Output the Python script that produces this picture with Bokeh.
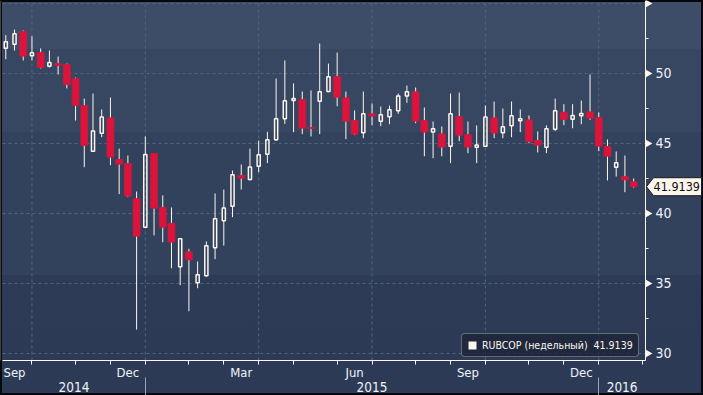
import math
import pandas as pd
from bokeh.plotting import figure
from bokeh.models import (Range1d, LinearAxis, FixedTicker, Legend, LegendItem,
                          ColumnDataSource)
from bokeh.core.properties import value
from bokeh.embed import file_html
from bokeh.resources import INLINE

# ---------------- data ----------------
first_bar_date = "2014-09-12"          # first weekly bar (Friday)
series_name = "RUBCOP (недельный)"
last_value = 41.9139

open_ = [51.81, 52.09, 53.00, 51.26, 51.50, 50.52, 50.71, 50.64, 49.64, 47.71,
         44.45, 45.74, 46.83, 43.86, 43.57, 41.07, 39.02, 44.29, 40.43, 39.29,
         36.19, 37.26, 35.05, 35.55, 37.55, 39.48, 40.52, 42.71, 42.43, 43.38,
         44.24, 45.26, 46.76, 48.07, 48.14, 46.14, 48.02, 48.71, 49.79, 48.26,
         46.64, 45.76, 47.12, 46.59, 46.91, 47.34, 48.40, 48.69, 46.64, 45.83,
         45.69, 44.81, 46.93, 45.64, 44.74, 44.81, 46.83, 45.76, 46.26, 46.62,
         46.69, 45.21, 44.74, 46.02, 47.24, 46.74, 46.98, 47.26, 46.86, 44.79,
         43.31, 42.64, 42.26]
high = [52.74, 53.14, 53.07, 52.66, 51.79, 51.64, 51.21, 50.71, 49.71, 48.21,
        48.57, 47.43, 48.29, 44.64, 44.14, 41.57, 45.50, 44.30, 41.29, 40.43,
        38.20, 37.48, 36.57, 38.00, 41.43, 41.71, 43.07, 43.50, 44.64, 45.21,
        45.83, 49.64, 50.93, 49.29, 48.71, 48.79, 52.14, 50.71, 51.50, 48.71,
        47.36, 48.71, 47.86, 47.64, 47.71, 48.57, 49.14, 49.00, 47.57, 46.57,
        46.21, 48.57, 48.64, 46.57, 46.29, 47.71, 48.00, 47.50, 48.00, 47.43,
        47.00, 45.86, 46.29, 48.21, 47.81, 47.81, 48.07, 49.93, 47.21, 45.29,
        44.43, 44.14, 42.50]
low = [51.02, 51.64, 50.93, 50.93, 50.36, 50.43, 49.93, 48.93, 46.64, 43.31,
       44.45, 45.45, 43.45, 41.38, 41.17, 31.71, 39.00, 38.43, 37.95, 36.09,
       34.88, 33.02, 34.66, 35.50, 36.74, 37.71, 39.74, 41.71, 42.36, 42.95,
       43.60, 45.19, 46.40, 45.81, 45.67, 45.50, 45.67, 48.67, 47.66, 45.31,
       45.60, 45.38, 46.31, 46.24, 46.38, 47.12, 47.91, 46.45, 44.09, 43.95,
       44.09, 43.60, 45.17, 44.31, 43.60, 44.74, 45.38, 45.38, 45.45, 45.81,
       45.02, 44.36, 44.31, 45.88, 46.31, 46.09, 46.38, 46.69, 44.45, 42.36,
       42.64, 41.52, 41.84]
close = [52.26, 52.84, 51.24, 51.48, 50.43, 50.79, 50.57, 49.21, 47.71, 44.86,
         45.90, 46.90, 44.02, 43.52, 41.24, 38.38, 44.21, 40.38, 39.02, 37.95,
         38.19, 36.69, 35.62, 37.69, 39.62, 40.40, 42.76, 42.52, 43.33, 44.19,
         45.26, 46.76, 48.05, 48.21, 46.09, 46.07, 48.69, 49.76, 48.31, 46.59,
         45.66, 47.12, 46.95, 47.05, 47.41, 48.40, 48.69, 46.59, 45.81, 46.05,
         44.74, 47.12, 45.59, 44.74, 44.90, 46.90, 45.74, 46.19, 46.98, 46.76,
         45.12, 44.88, 46.05, 47.34, 46.71, 47.00, 47.14, 46.81, 44.81, 44.09,
         43.62, 42.40, 41.9139]

y_ticks = [30, 35, 40, 45, 50, 55]
y_minor = [32.5, 37.5, 42.5, 47.5, 52.5]
y_hidden_labels = [55]
month_names = {3: "Mar", 6: "Jun", 9: "Sep", 12: "Dec"}
axis_months = ("2014-09-01", "2016-02-01")

# ---------------- layout / style ----------------
W, H = 703, 395
PLOT_L, PLOT_W = 2, 643          # px: data area left edge and width
PLOT_T, PLOT_H = 0, 360          # px: data area top edge and height
X0, X1 = -0.378, 73.36           # data-area x limits (bar index)
Y0, Y1 = 29.5, 55.214            # data-area y limits
pxx = PLOT_W / (X1 - X0)
pxy = PLOT_H / (Y1 - Y0)
XS = X0 - PLOT_L / pxx
XE = XS + W / pxx
YE = Y1 + PLOT_T / pxy
YS = YE - H / pxy

FONT = "'DejaVu Sans Condensed', 'Liberation Sans Narrow', sans-serif"
CREAM = "#fdf6ee"
RED = "#dc143c"
GRID = "#4f6782"
LABEL = "#eef3fa"

n = len(close)
dates = pd.date_range(first_bar_date, periods=n, freq="7D")
idx = list(range(n))


def first_bar(month_start):
    off = (4 - month_start.weekday()) % 7
    return ((month_start + pd.Timedelta(days=off)) - dates[0]).days // 7


months = pd.date_range(axis_months[0], axis_months[1], freq="MS")
fb = [first_bar(m) for m in months]

month_label_pos, month_label_txt = [], []
for i in range(len(months) - 1):
    if months[i].month in month_names:
        month_label_pos.append((fb[i] + fb[i + 1]) / 2)
        month_label_txt.append(month_names[months[i].month])
month_minor = [b for b in fb if b >= 0]
quarter_lines = [fb[i] for i in range(len(months)) if months[i].month in (1, 4, 7, 10)]
year_bounds = [fb[i] for i in range(len(months)) if months[i].month == 1]
edges = [X0] + year_bounds + [X1]
year_pos = [(edges[i] + edges[i + 1]) / 2 for i in range(len(edges) - 1)]
year_txt = [str(dates[0].year + i) for i in range(len(year_pos))]

# ---------------- figure ----------------
p = figure(width=W, height=H, x_range=Range1d(XS, XE), y_range=Range1d(YS, YE),
           x_axis_type=None, y_axis_type=None, output_backend="svg",
           toolbar_location=None, min_border=0)
p.border_fill_color = None
p.background_fill_color = None
p.outline_line_color = None
p.styles = {
    "background": ("linear-gradient(to bottom, #3e4d67 0px, #3e4d67 49px, "
                   "#384761 49px, #384761 132px, #33425c 132px, #33425c 275px, "
                   "#2e3b56 275px, #2d3a55 100%)"),
    "box-shadow": "inset 0 0 0 2px #06080d",
}

# dashed grid lines (only inside the data area)
p.segment(x0=[X0] * len(y_ticks), x1=[X1] * len(y_ticks), y0=y_ticks, y1=y_ticks,
          line_color=GRID, line_dash="3 3", line_width=1)
p.segment(x0=quarter_lines, x1=quarter_lines, y0=[Y0] * len(quarter_lines),
          y1=[Y1] * len(quarter_lines), line_color=GRID, line_dash="3 3", line_width=1)

# candles
top = [max(o, c) for o, c in zip(open_, close)]
bot = [min(o, c) for o, c in zip(open_, close)]
src = ColumnDataSource(dict(x=idx, h=high, l=low, top=top, bot=bot))
p.segment(x0="x", y0="h", x1="x", y1="top", source=src, line_color=CREAM, line_width=1)
p.segment(x0="x", y0="bot", x1="x", y1="l", source=src, line_color=CREAM, line_width=1)

up_i = [i for i in idx if close[i] >= open_[i]]
dn_i = [i for i in idx if close[i] < open_[i]]
up_src = ColumnDataSource(dict(x=up_i, top=[top[i] for i in up_i], bot=[bot[i] for i in up_i]))
dn_src = ColumnDataSource(dict(x=dn_i, top=[top[i] for i in dn_i], bot=[bot[i] for i in dn_i]))
p.vbar(x="x", top="top", bottom="bot", width=0.36, source=up_src,
       fill_color=None, line_color=CREAM, line_width=1.5)
p.vbar(x="x", top="top", bottom="bot", width=0.8, source=dn_src,
       fill_color=RED, line_color=RED, line_width=0.6)

# right value axis, fixed at the data-area edge
yaxis = LinearAxis(fixed_location=X1, bounds=(Y0, Y1),
                   ticker=FixedTicker(ticks=y_ticks, minor_ticks=y_minor),
                   major_label_overrides={t: "" for t in y_hidden_labels},
                   major_tick_out=0, major_tick_in=0, minor_tick_out=3, minor_tick_in=0,
                   major_label_standoff=7, axis_line_color=CREAM, axis_line_width=1,
                   minor_tick_line_color=CREAM, major_label_text_color=LABEL,
                   major_label_text_font=FONT, major_label_text_font_size="14px")
p.add_layout(yaxis, "right")

# triangle markers at the major value ticks
p.scatter(x=[X1 + 2.3 / pxx] * len(y_ticks), y=y_ticks, marker="triangle",
          angle=-math.pi / 2, size=8, fill_color=CREAM, line_color=None)

# month axis
month_axis = LinearAxis(fixed_location=Y0, bounds=(X0, X1),
                        ticker=FixedTicker(ticks=month_label_pos, minor_ticks=month_minor),
                        major_label_overrides=dict(zip(month_label_pos, month_label_txt)),
                        major_tick_out=0, major_tick_in=0, minor_tick_out=4, minor_tick_in=0,
                        major_label_standoff=0, axis_line_color=CREAM, axis_line_width=1.2,
                        minor_tick_line_color=CREAM, major_label_text_color=LABEL,
                        major_label_text_font=FONT, major_label_text_font_size="13px")
p.add_layout(month_axis, "below")

# year separators and year labels
Y_YEAR = Y0 - 17 / pxy
sep_axis = LinearAxis(fixed_location=Y_YEAR,
                      ticker=FixedTicker(ticks=[], minor_ticks=year_bounds),
                      axis_line_color=None, major_tick_out=0, major_tick_in=0,
                      minor_tick_out=18, minor_tick_in=0,
                      minor_tick_line_color="#9ea3ab", minor_tick_line_width=1,
                      major_label_text_alpha=0)
p.add_layout(sep_axis, "below")
year_axis = LinearAxis(fixed_location=Y_YEAR,
                       ticker=FixedTicker(ticks=year_pos),
                       major_label_overrides=dict(zip(year_pos, year_txt)),
                       major_tick_out=0, major_tick_in=0, minor_tick_out=0, minor_tick_in=0,
                       major_label_standoff=4, axis_line_color=None,
                       major_label_text_color=LABEL,
                       major_label_text_font=FONT, major_label_text_font_size="13.5px")
p.add_layout(year_axis, "below")

# last value tag
tag_h = 9 / pxy
p.patch(x=[X1 + 1 / pxx, X1 + 8 / pxx, X1 + 56 / pxx, X1 + 56 / pxx, X1 + 8 / pxx],
        y=[last_value, last_value + tag_h, last_value + tag_h, last_value - tag_h,
           last_value - tag_h],
        fill_color=CREAM, line_color="#1a1a1a", line_width=1)
p.text(x=[X1 + 8 / pxx], y=[last_value], text=[f"{last_value:.4f}"],
       text_align="left", text_baseline="middle", text_color="#111111",
       text_font=value(FONT), text_font_size="12.5px")

# legend (proxy glyph kept outside the visible range)
sq = p.vbar(x=[XS - 100], top=[Y1], bottom=[Y0], width=1, fill_color=CREAM, line_color=None)
legend = Legend(items=[LegendItem(label=f"{series_name}\u00a0\u00a0{last_value:.4f}",
                                  renderers=[sq])],
                location=(PLOT_L + PLOT_W - 2 - 182, H - (PLOT_T + PLOT_H) + 3),
                margin=0, padding=5, spacing=0,
                glyph_width=10, glyph_height=10, label_standoff=5, label_height=12,
                background_fill_color="#1b2334", background_fill_alpha=0.75,
                border_line_color="#a9adb5", border_line_width=1,
                label_text_color=CREAM, label_text_font=FONT, label_text_font_size="10.5px")
try:
    legend.border_radius = 4
except Exception:
    pass
p.add_layout(legend)

open("out.html", "w").write(file_html(p, INLINE))
